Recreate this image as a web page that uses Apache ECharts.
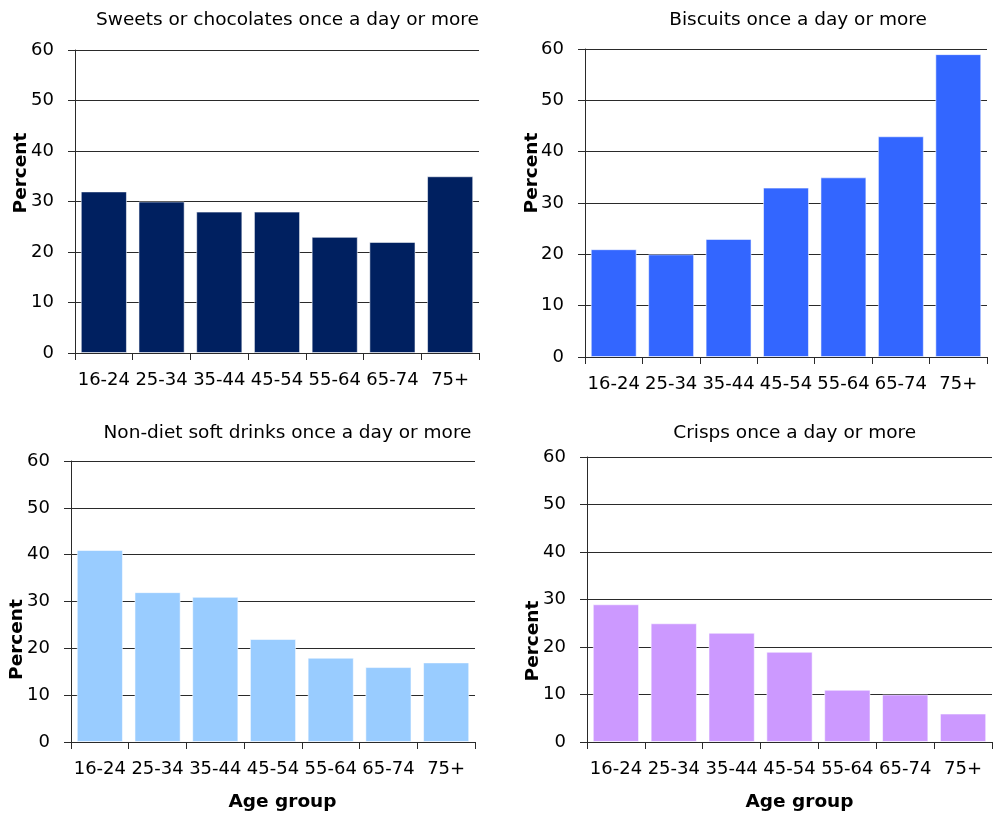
<!DOCTYPE html>
<html>
<head>
<meta charset="utf-8">
<title>Daily snack consumption by age group</title>
<script src="https://cdn.jsdelivr.net/npm/echarts@6/dist/echarts.min.js"></script>
<style>
  html, body { margin: 0; padding: 0; background: #fff; }
  #chart { width: 996px; height: 822px; }
</style>
</head>
<body>
<div id="chart"></div>
<script>
// Age bands shared by all four panels
const ageGroups = ['16-24', '25-34', '35-44', '45-54', '55-64', '65-74', '75+'];

// Percent of people in each age band eating the item once a day or more
const sweetsValues  = [32, 30, 28, 28, 23, 22, 35];
const biscuitValues = [21, 20, 23, 33, 35, 43, 59];
const softDrinkValues = [41, 32, 31, 22, 18, 16, 17];
const crispsValues  = [29, 25, 23, 19, 11, 10, 6];

// Panel headings
const panelTitles = [
  'Sweets or chocolates once a day or more',
  'Biscuits once a day or more',
  'Non-diet soft drinks once a day or more',
  'Crisps once a day or more'
];

// Value axis scale
const yMin = 0, yMax = 60, yStep = 10;

const FONT = 'DejaVu Sans';
const LINE = '#2a2a2a';

// Panel layout: plot rectangle, bar colour, title/label anchor points
const panels = [
  { data: sweetsValues,    color: '#002060', grid: { left: 75, top: 50, width: 404, height: 303 },
    title: [287.5, 20], ylab: [21.5, 173], xlab: null },
  { data: biscuitValues,   color: '#3366FF', grid: { left: 585, top: 49, width: 402, height: 308 },
    title: [798, 20], ylab: [531.7, 173], xlab: null },
  { data: softDrinkValues, color: '#99CCFF', grid: { left: 71, top: 461, width: 404, height: 281 },
    title: [287.5, 433.5], ylab: [17, 639.5], xlab: [282.5, 802] },
  { data: crispsValues,    color: '#CC99FF', grid: { left: 587, top: 457, width: 405, height: 285 },
    title: [794.7, 433.5], ylab: [533.3, 641], xlab: [799.5, 802] }
];

const grids = [], xAxes = [], yAxes = [], series = [], texts = [];

panels.forEach((p, i) => {
  grids.push(Object.assign({ containLabel: false }, p.grid));
  xAxes.push({
    type: 'category',
    gridIndex: i,
    data: ageGroups,
    boundaryGap: true,
    axisLine: { show: true, lineStyle: { color: LINE, width: 1 } },
    axisTick: { show: true, length: 7, inside: false, alignWithLabel: false, lineStyle: { color: LINE } },
    axisLabel: { color: '#000', fontFamily: FONT, fontSize: 18, margin: 18, interval: 0 },
    splitLine: { show: false }
  });
  yAxes.push({
    type: 'value',
    gridIndex: i,
    min: yMin, max: yMax, interval: yStep,
    axisLine: { show: true, lineStyle: { color: LINE, width: 1 } },
    axisTick: { show: true, length: 7, inside: false, lineStyle: { color: LINE } },
    axisLabel: { color: '#000', fontFamily: FONT, fontSize: 18, margin: 21 },
    splitLine: { show: true, lineStyle: { color: LINE, width: 1 } }
  });
  series.push({
    type: 'bar',
    xAxisIndex: i,
    yAxisIndex: i,
    data: p.data,
    barCategoryGap: '20%',
    itemStyle: { color: p.color, borderColor: 'rgba(255,255,255,0.55)', borderWidth: 1 },
    emphasis: { disabled: true },
    animation: false
  });

  texts.push({
    type: 'text', x: p.title[0], y: p.title[1],
    style: { text: panelTitles[i], fill: '#000', font: '18.5px "' + FONT + '"', align: 'center', verticalAlign: 'middle' }
  });
  texts.push({
    type: 'text', x: p.ylab[0], y: p.ylab[1], rotation: Math.PI / 2,
    style: { text: 'Percent', fill: '#000', font: 'bold 18.5px "' + FONT + '"', align: 'center', verticalAlign: 'middle' }
  });
  if (p.xlab) {
    texts.push({
      type: 'text', x: p.xlab[0], y: p.xlab[1],
      style: { text: 'Age group', fill: '#000', font: 'bold 18.5px "' + FONT + '"', align: 'center', verticalAlign: 'middle' }
    });
  }
});

const chart = echarts.init(document.getElementById('chart'), null, { renderer: 'canvas' });
chart.setOption({
  backgroundColor: '#fff',
  animation: false,
  grid: grids,
  xAxis: xAxes,
  yAxis: yAxes,
  series: series,
  graphic: texts
});
</script>
</body>
</html>
